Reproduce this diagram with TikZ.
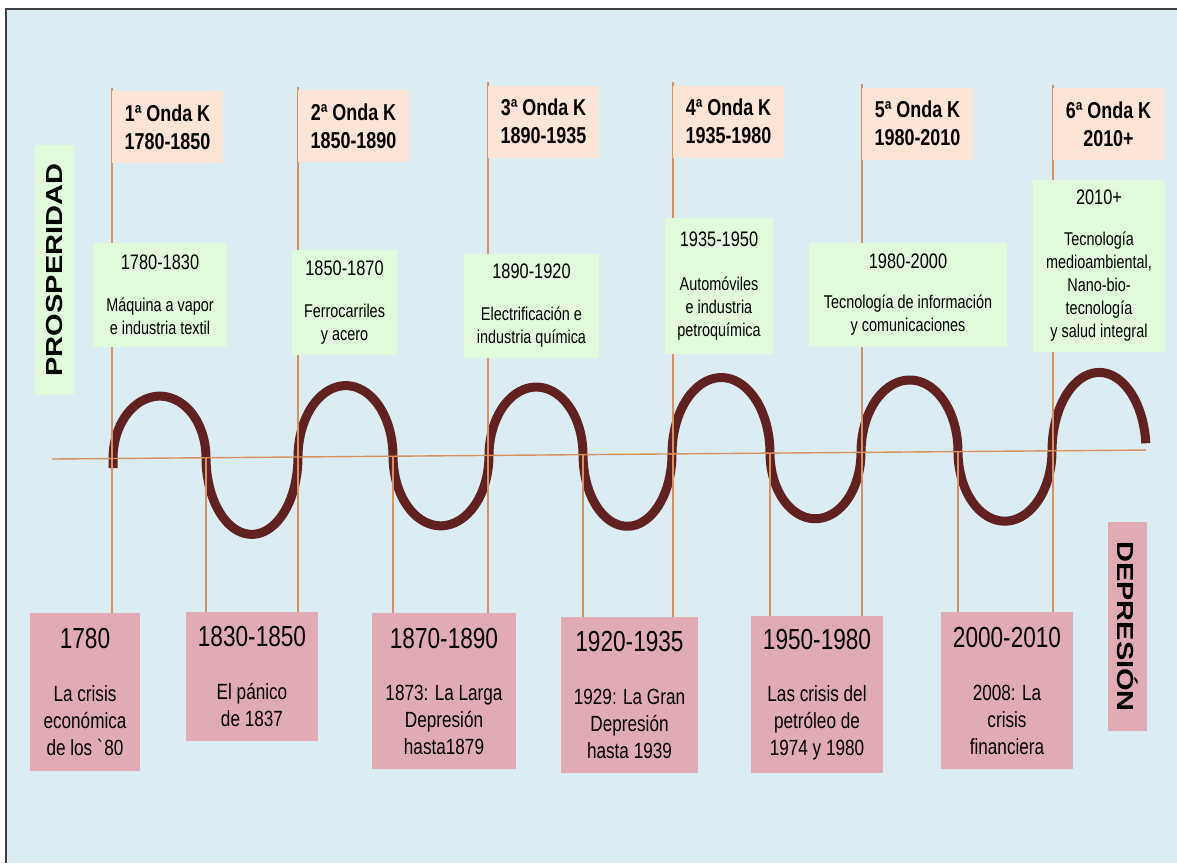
\documentclass[tikz,border=0pt]{standalone}
\usepackage{fontspec}
\setmainfont{Liberation Sans}[FakeStretch=0.78]
\newfontfamily\sidefont{Liberation Sans}
\usepackage{xcolor}

\definecolor{skyback}{RGB}{219,237,243}
\definecolor{peach}{RGB}{252,228,214}
\definecolor{mint}{RGB}{226,250,220}
\definecolor{rose}{RGB}{224,171,181}
\definecolor{wavebrown}{RGB}{96,33,32}
\definecolor{guideorange}{RGB}{214,146,96}

\pgfdeclarelayer{bg}
\pgfsetlayers{bg,main}

\newcommand{\techyr}[1]{{\fontsize{21}{23}\selectfont #1}}
\newcommand{\crisisyr}[1]{{\fontsize{29}{31}\selectfont #1}}

\begin{document}
\begin{tikzpicture}[x=1pt,y=-1pt,
    declare function={ay(\t)=459-0.0082*(\t-52);},
    onda/.style={fill=peach, minimum width=111pt, minimum height=72pt, inner sep=0pt, align=center, font=\bfseries\fontsize{23}{28}\selectfont},
    tech/.style={fill=mint, inner sep=0pt, align=center, font=\fontsize{18.5}{23}\selectfont},
    crisis/.style={fill=rose, inner sep=0pt, align=center, font=\fontsize{22}{27}\selectfont},
    side/.style={inner sep=0pt, minimum height=39pt, font=\sidefont\bfseries\fontsize{29}{29}\selectfont},
    guide/.style={guideorange, line width=1.4pt},
    wave/.style={wavebrown, line width=9pt, line join=round}]

    \useasboundingbox (0,0) rectangle (1177,863);

    % Ondas K (top)
    \node[onda] (k1) at (167.5,127) {1ª Onda K\\1780-1850};
    \node[onda] (k2) at (353.5,126) {2ª Onda K\\1850-1890};
    \node[onda] (k3) at (543.5,121.5) {3ª Onda K\\1890-1935};
    \node[onda] (k4) at (728.5,121.5) {4ª Onda K\\1935-1980};
    \node[onda] (k5) at (917.5,123.5) {5ª Onda K\\1980-2010};
    \node[onda] (k6) at (1108.5,124) {6ª Onda K\\2010+};

    % Technologies
    \node[tech, minimum width=134pt, minimum height=104pt] (g1) at (160,295) {\techyr{1780-1830}\\[19pt]Máquina a vapor\\e industria textil};
    \node[tech, minimum width=105pt, minimum height=105pt] (g2) at (344.5,302.5) {\techyr{1850-1870}\\[19pt]Ferrocarriles\\y acero};
    \node[tech, minimum width=135pt, minimum height=104pt] (g3) at (531.5,306) {\techyr{1890-1920}\\[19pt]Electrificación e\\industria química};
    \node[tech, minimum width=108pt, minimum height=136pt] (g4) at (719,286) {\techyr{1935-1950}\\[21pt]Automóviles\\e industria\\petroquímica};
    \node[tech, minimum width=198pt, minimum height=104pt] (g5) at (908,295) {\techyr{1980-2000}\\[17pt]Tecnología de información\\y comunicaciones};
    \node[tech, minimum width=132pt, minimum height=172pt] (g6) at (1099,266) {\techyr{2010+}\\[18pt]Tecnología\\medioambiental,\\Nano-bio-\\tecnología\\y salud integral};

    % Crises (bottom)
    \node[crisis, minimum width=110pt, minimum height=158pt] (c1) at (85,692) {\crisisyr{1780}\\[26pt]La crisis\\económica\\de los \textasciigrave 80};
    \node[crisis, minimum width=132pt, minimum height=129pt] (c2) at (252,676.5) {\crisisyr{1830-1850}\\[26pt]El pánico\\de 1837};
    \node[crisis, minimum width=144pt, minimum height=156pt] (c3) at (444,691) {\crisisyr{1870-1890}\\[25pt]1873: La Larga\\Depresión\\hasta1879};
    \node[crisis, minimum width=137pt, minimum height=156pt] (c4) at (629.5,695) {\crisisyr{1920-1935}\\[26pt]1929: La Gran\\Depresión\\hasta 1939};
    \node[crisis, minimum width=132pt, minimum height=157pt] (c5) at (817,694.5) {\crisisyr{1950-1980}\\[25pt]Las crisis del\\petróleo de\\1974 y 1980};
    \node[crisis, minimum width=132pt, minimum height=157pt] (c6) at (1007,690.5) {\crisisyr{2000-2010}\\[26pt]2008: La\\crisis\\financiera};

    % Side labels
    \node[side, fill=mint, minimum width=250pt, rotate=90] (pros) at (54.5,270) {\scalebox{1}[0.8]{PROSPERIDAD}};
    \node[side, fill=rose, minimum width=209pt, rotate=-90] (depr) at (1127.5,626.5) {\scalebox{1}[0.8]{DEPRESIÓN}};

    \begin{pgfonlayer}{bg}
        % Background and frame
        \fill[white] (0,0) rectangle (1177,863);
        \fill[skyback] (6,9) rectangle (1177,863);
        \draw[line width=1.5pt, black!75] (1177,9) -- (6,9) -- (6,863);

        % Long wave
        \draw[wave] (113,468) foreach \a/\b/\h/\e in {113/206/62/180, 206/298/-77/180, 298/393/71/180, 393/489/-70/180, 489/583/68/180, 583/672/-72/180, 672/770/76/180, 770/861/-66/180, 861/958/72/180, 958/1052/-70/180, 1052/1146/78/175}
            { -- plot[domain=0:\e, samples=40] ({(\a+\b)/2-(\b-\a)/2*cos(\x)}, {ay((\a+\b)/2-(\b-\a)/2*cos(\x))-\h*sin(\x)}) };

        % Time axis
        \coordinate (ax0) at (52,{ay(52)});
        \coordinate (ax1) at (1146,{ay(1146)});
        \draw[guide] (ax0) -- (ax1);

        % Guides from the waves to the crises
        \foreach \i in {1,...,6}
            \draw[guide] ([yshift=3pt]k\i.north west) -- (k\i.north west |- c\i.north);
        \foreach \x/\c in {206/2, 393/3, 583/4, 770/5, 958/6} {
            \coordinate (t\c) at (\x,{ay(\x)});
            \draw[guide] (t\c) -- (t\c |- c\c.north);
        }
    \end{pgfonlayer}
\end{tikzpicture}
\end{document}
